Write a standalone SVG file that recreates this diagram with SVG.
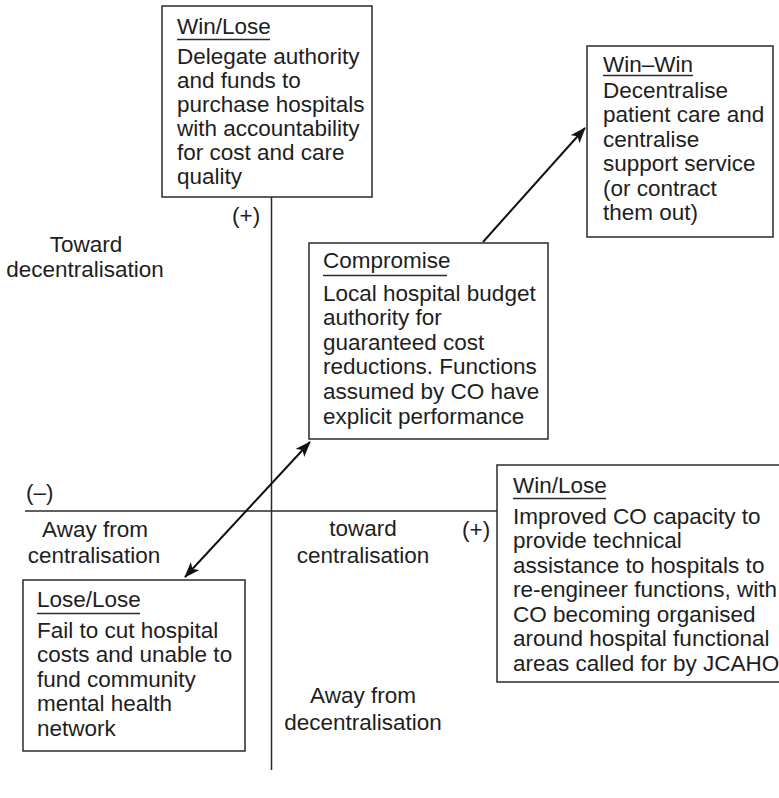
<svg xmlns="http://www.w3.org/2000/svg" width="779" height="798" viewBox="0 0 779 798">
<defs>
<style>
text{font-family:"Liberation Sans",Arial,sans-serif;font-size:22.5px;fill:#1e1e1e}
.c{text-anchor:middle}
.box{fill:#fff;stroke:#2a2a2a;stroke-width:1.5}
.ax{stroke:#2a2a2a;stroke-width:1.5;fill:none}
.ul{stroke:#2a2a2a;stroke-width:1.3}
.arr{stroke:#111;stroke-width:2;fill:none}
</style>
<marker id="ah" markerUnits="userSpaceOnUse" markerWidth="18" markerHeight="14" refX="15" refY="6" orient="auto-start-reverse">
<path d="M0,0 L16,6 L0,12 L4,6 z" fill="#111"/>
</marker>
</defs>
<rect width="779" height="798" fill="#fff"/>
<g id="axes">
<line class="ax" x1="271.5" y1="197" x2="271.5" y2="770"/>
<line class="ax" x1="25" y1="511" x2="497" y2="511"/>
</g>
<g id="axis-labels">
<text class="c" x="86" y="252">Toward</text>
<text class="c" x="85" y="277">decentralisation</text>
<text x="232" y="223">(+)</text>
<text x="26" y="500">(–)</text>
<text class="c" x="95" y="537">Away from</text>
<text class="c" x="94" y="563">centralisation</text>
<text class="c" x="363" y="536">toward</text>
<text class="c" x="363" y="563">centralisation</text>
<text x="462" y="537">(+)</text>
<text class="c" x="363" y="703">Away from</text>
<text class="c" x="363" y="730">decentralisation</text>
</g>
<g id="connectors">
<line class="arr" x1="483" y1="242" x2="585" y2="128" marker-end="url(#ah)"/>
<line class="arr" x1="185" y1="577" x2="310" y2="442" marker-start="url(#ah)" marker-end="url(#ah)"/>
</g>
<g id="node-top-left">
<rect class="box" x="162" y="6" width="210" height="191"/>
<text x="177" y="34">Win/Lose</text>
<line class="ul" x1="177" y1="39.5" x2="270" y2="39.5"/>
<text x="177" y="64">Delegate authority</text>
<text x="177" y="88">and funds to</text>
<text x="177" y="112">purchase hospitals</text>
<text x="177" y="136">with accountability</text>
<text x="177" y="160">for cost and care</text>
<text x="177" y="184">quality</text>
</g>
<g id="node-top-right">
<rect class="box" x="587" y="46" width="186" height="191"/>
<text x="603" y="72">Win–Win</text>
<line class="ul" x1="603" y1="75.5" x2="693" y2="75.5"/>
<text x="603" y="98">Decentralise</text>
<text x="603" y="122">patient care and</text>
<text x="603" y="147">centralise</text>
<text x="603" y="171">support service</text>
<text x="603" y="196">(or contract</text>
<text x="603" y="220">them out)</text>
</g>
<g id="node-center">
<rect class="box" x="309" y="243" width="239" height="196"/>
<text x="323" y="268">Compromise</text>
<line class="ul" x1="323" y1="275.5" x2="447" y2="275.5"/>
<text x="323" y="301">Local hospital budget</text>
<text x="323" y="325">authority for</text>
<text x="323" y="350">guaranteed cost</text>
<text x="323" y="374">reductions. Functions</text>
<text x="323" y="399">assumed by CO have</text>
<text x="323" y="424">explicit performance</text>
</g>
<g id="node-bottom-left">
<rect class="box" x="23" y="580" width="222" height="171"/>
<text x="37" y="607">Lose/Lose</text>
<line class="ul" x1="37" y1="613.5" x2="140" y2="613.5"/>
<text x="37" y="638">Fail to cut hospital</text>
<text x="37" y="662">costs and unable to</text>
<text x="37" y="687">fund community</text>
<text x="37" y="711">mental health</text>
<text x="37" y="736">network</text>
</g>
<g id="node-bottom-right">
<rect class="box" x="497" y="465" width="290" height="217"/>
<text x="513" y="493">Win/Lose</text>
<line class="ul" x1="513" y1="498.5" x2="606" y2="498.5"/>
<text x="513" y="524">Improved CO capacity to</text>
<text x="513" y="548">provide technical</text>
<text x="513" y="573">assistance to hospitals to</text>
<text x="513" y="597">re-engineer functions, with</text>
<text x="513" y="622">CO becoming organised</text>
<text x="513" y="646">around hospital functional</text>
<text x="513" y="671">areas called for by JCAHO</text>
</g>
</svg>
